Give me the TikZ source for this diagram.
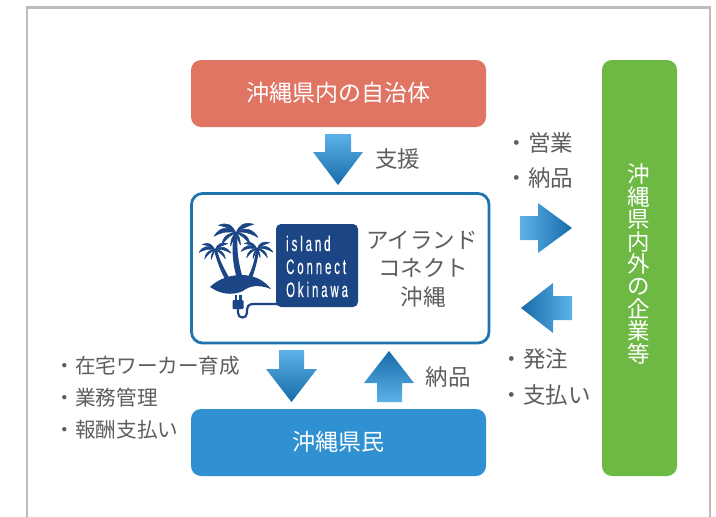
\documentclass[tikz,border=0pt]{standalone}
\usepackage{fontspec}
\setmainfont{Noto Sans CJK JP}
\newfontfamily\logofont[FakeStretch=0.54,LetterSpace=14,FakeBold=0.4]{Liberation Sans}
\definecolor{framegray}{HTML}{BDBDBD}
\definecolor{redbox}{HTML}{E07564}
\definecolor{greenbox}{HTML}{6DB944}
\definecolor{bluebox}{HTML}{3091D2}
\definecolor{mainline}{HTML}{1F74B0}
\definecolor{navy}{HTML}{1B4585}
\definecolor{labelgray}{HTML}{5E5E5E}
\definecolor{arrlight}{HTML}{5CB2E8}
\definecolor{arrmid}{HTML}{2E8ED0}
\definecolor{arrdark}{HTML}{176BA9}
\tikzset{
  x=1pt,y=-1pt,
  box/.style={rounded corners=10pt},
  big/.style={font=\fontsize{22.5}{22.5}\selectfont},
  lab/.style={big,text=labelgray,inner sep=0pt},
  smalllab/.style={font=\fontsize{20.6}{20.6}\selectfont,text=labelgray,inner sep=0pt},
  white text/.style={font=\fontsize{23}{23}\selectfont,text=white,inner sep=0pt},
  arrdown/.style={top color=arrlight,middle color=arrmid,bottom color=arrdark},
  arrup/.style={top color=arrdark,middle color=arrmid,bottom color=arrlight},
  arrright/.style={left color=arrlight,middle color=arrmid,right color=arrdark},
  arrleft/.style={left color=arrdark,middle color=arrmid,right color=arrlight},
  logotext/.style={font=\logofont\fontsize{21}{21}\selectfont,text=white,inner sep=0pt,anchor=base west},
  frond/.style={fill=navy,draw=navy,line width=0.5pt,line join=round},
}
% one palm crown, drawn around the current origin
\newcommand{\palmcrown}{%
  \filldraw[frond] (0,0) .. controls (-4,-8) and (-8,-10) .. (-16,-7) .. controls (-10,-6) and (-5,-4) .. (0,0);
  \filldraw[frond] (0,0) .. controls (-8,-7) and (-15,-5) .. (-20,3) .. controls (-13,-1) and (-6,-2) .. (0,0);
  \filldraw[frond] (0,0) .. controls (-6,-1) and (-12,3) .. (-13,11) .. controls (-9,5) and (-5,2) .. (0,0);
  \filldraw[frond] (0,0) .. controls (-3,2) and (-5,6) .. (-5,12) .. controls (-3,7) and (-1,4) .. (0,0);
  \filldraw[frond] (0,0) .. controls (3,-8) and (8,-10) .. (16,-8) .. controls (10,-6) and (5,-4) .. (0,0);
  \filldraw[frond] (0,0) .. controls (8,-6) and (15,-4) .. (20,4) .. controls (13,0) and (6,-2) .. (0,0);
  \filldraw[frond] (0,0) .. controls (6,-1) and (12,3) .. (13,11) .. controls (9,5) and (5,2) .. (0,0);
  \filldraw[frond] (0,0) .. controls (3,2) and (4,6) .. (4,11) .. controls (2,7) and (1,4) .. (0,0);
}
\begin{document}
\begin{tikzpicture}
\useasboundingbox (0,0) rectangle (716,517);
\fill[white] (0,0) rectangle (716,517);
% frame, open at the bottom edge
\draw[framegray,line width=2.6pt] (27,517) -- (27,7.5) -- (710,7.5) -- (710,517);

% boxes
\fill[redbox,box] (191,60) rectangle (486,127);
\fill[greenbox,box] (602,60) rectangle (677,476);
\fill[bluebox,box] (191,409) rectangle (486,476);
\draw[mainline,line width=2.8pt,rounded corners=11pt] (191.5,193.5) rectangle (489,343);

% box texts
\node[white text] (jichitai) at (338,93) {沖縄県内の自治体};
\node[white text] (kenmin) at (338,442) {沖縄県民};
\node[white text,align=center,font=\fontsize{22.5}{22.45}\selectfont] (kigyo) at (639,264) {沖\\縄\\県\\内\\外\\の\\企\\業\\等};

% block arrows
\shade[arrdown] (325,134) -- (351,134) -- (351,152) -- (363,152) -- (338,185) -- (313,152) -- (325,152) -- cycle;
\shade[arrdown] (279,350) -- (304,350) -- (304,369) -- (317,369) -- (291.5,402) -- (266,369) -- (279,369) -- cycle;
\shade[arrup] (389,351) -- (414,383) -- (402,383) -- (402,402) -- (377,402) -- (377,383) -- (364,383) -- cycle;
\shade[arrright] (520,216) -- (538,216) -- (538,203) -- (572,228) -- (538,253) -- (538,240) -- (520,240) -- cycle;
\shade[arrleft] (521,308) -- (553,283) -- (553,296) -- (572,296) -- (572,320) -- (553,320) -- (553,333) -- cycle;

% labels
\node[lab] (shien) at (397.5,159) {支援};
\node[lab,anchor=west] (eigyo) at (505.5,143) {・営業};
\node[lab,anchor=west] (nohin) at (505.5,178) {・納品};
\node[lab,anchor=west] (hatchu) at (500.5,359) {・発注};
\node[lab,anchor=west] (shiharai) at (500.5,395) {・支払い};
\node[lab] (nohinb) at (448,377) {納品};
\node[smalllab,anchor=west] (zaitaku) at (54.5,366) {・在宅ワーカー育成};
\node[smalllab,anchor=west] (gyomu) at (54.5,398) {・業務管理};
\node[smalllab,anchor=west] (hoshu) at (54.5,430) {・報酬支払い};

% main box title
\node[lab] (t1) at (422,240) {アイランド};
\node[lab] (t2) at (423,268) {コネクト};
\node[lab] (t3) at (423,297) {沖縄};

% logo
\fill[navy,rounded corners=5pt] (276,224) rectangle (358,307);
\node[logotext] (l1) at (286,251) {island};
\node[logotext] (l2) at (286,274) {Connect};
\node[logotext] (l3) at (286,297) {Okinawa};

% trunks
\fill[navy] (234,234) .. controls (231,250) and (233,265) .. (237,279) -- (243,279) .. controls (239,265) and (236,250) .. (238,234) -- cycle;
\fill[navy] (214,250) .. controls (217,262) and (221,272) .. (226,281) -- (231,281) .. controls (226,272) and (220,262) .. (217,250) -- cycle;
\fill[navy] (256,249) .. controls (255,260) and (252,270) .. (246,281) -- (251,281) .. controls (255,270) and (258,260) .. (259,249) -- cycle;
% crowns
\begin{scope}[shift={(236,233)},scale=1.1] \palmcrown \end{scope}
\begin{scope}[shift={(215,250)},scale=0.8] \palmcrown \end{scope}
\begin{scope}[shift={(257,249)},scale=0.8] \palmcrown \end{scope}
% island
\fill[navy] (210,287) .. controls (219,278) and (232,275) .. (241,275) .. controls (254,275) and (264,280) .. (271,289)
  .. controls (258,284) and (249,286) .. (243,291) .. controls (232,296) and (220,294) .. (210,287) -- cycle;
% plug and cord
\fill[navy,rounded corners=1pt] (232.5,300) rectangle (243.5,309);
\fill[navy] (234.5,295) rectangle (236.8,301);
\fill[navy] (239.2,295) rectangle (241.5,301);
\draw[navy,line width=2.2pt] (238,308) -- (238,313) .. controls (238,319) and (247,319) .. (247,313) .. controls (247,306) and (248,304) .. (254,304) -- (278,304);
\end{tikzpicture}
\end{document}
